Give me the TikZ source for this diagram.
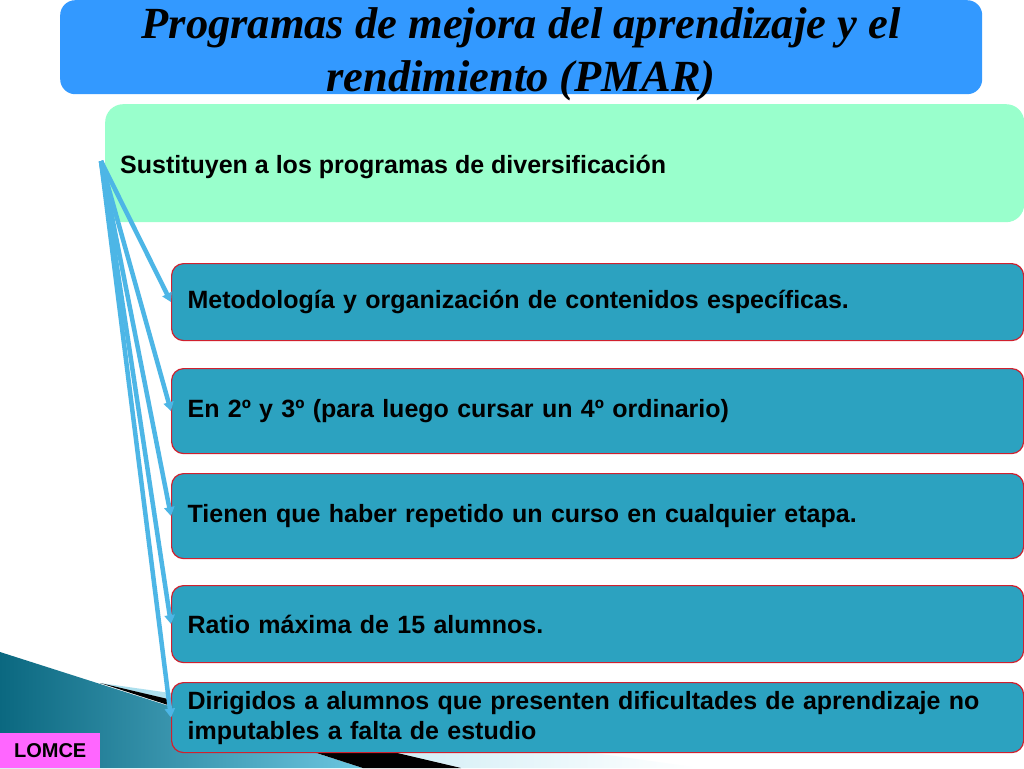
\documentclass[tikz,border=0pt]{standalone}
\usepackage{fontspec}
\setmainfont{Liberation Serif}
\newfontfamily\arialfont{Liberation Sans}
\usetikzlibrary{arrows.meta}
\definecolor{titleblue}{HTML}{3399FF}
\definecolor{mint}{HTML}{99FFCC}
\definecolor{tealbox}{HTML}{2CA2C0}
\definecolor{boxred}{HTML}{D0202E}
\definecolor{connblue}{HTML}{4DB6E6}
\definecolor{lompink}{HTML}{FF66FF}
\definecolor{darkteal}{HTML}{0B6880}
\definecolor{lightteal}{HTML}{6CC6E0}
\tikzset{
  itembox/.style={rectangle, rounded corners=12pt, fill=tealbox, draw=boxred, line width=1.2pt,
    minimum width=852pt, anchor=north west, inner xsep=16pt, inner ysep=0pt,
    text width=820pt, align=left, font=\arialfont\bfseries\fontsize{25}{30}\selectfont},
  conn/.style={draw=connblue, line width=4.5pt, -{Triangle[length=9pt,width=10pt]}},
  titletext/.style={anchor=base, inner sep=0pt, font=\bfseries\itshape\fontsize{44.5}{52}\selectfont},
}
\begin{document}
\begin{tikzpicture}[x=1pt,y=-1pt]
\useasboundingbox (0,0) rectangle (1024,768);
\fill[white] (0,0) rectangle (1024,768);
% bottom-left decoration
\shade[left color=darkteal, right color=lightteal] (0,652) -- (363,768) -- (0,768) -- cycle;
\shade[left color=lightteal!60!white, right color=white] (100,683) -- (700,768) -- (461,768) -- cycle;
\fill[black] (100,683) -- (461,768) -- (363,768) -- cycle;
% title
\node[rectangle, rounded corners=15pt, fill=titleblue, minimum width=922pt, minimum height=94pt, anchor=north west, inner sep=0pt] (titlebox) at (60,0) {};
\node[titletext] (title1) at (521,38) {Programas de mejora del aprendizaje y el};
\node[titletext] (title2) at (521,91) {rendimiento (PMAR)};
% main box
\node[rectangle, rounded corners=18pt, fill=mint, minimum width=919pt, minimum height=118pt, anchor=north west, inner sep=0pt] (sust) at (105,104) {};
\node[anchor=base west, inner sep=0pt, font=\arialfont\bfseries\fontsize{25}{30}\selectfont] (sustext) at (120,173)
  {Sustituyen a los programas de diversificación};
% items
\node[itembox, minimum height=77pt] (b1) at (171,263) {Metodología y organización de contenidos específicas.};
\node[itembox, minimum height=85pt] (b2) at (171,368) {En 2º y 3º (para luego cursar un 4º ordinario)};
\node[itembox, minimum height=85pt] (b3) at (171,473) {Tienen que haber repetido un curso en cualquier etapa.};
\node[itembox, minimum height=77pt] (b4) at (171,585) {Ratio máxima de 15 alumnos.};
\node[itembox, minimum height=70pt] (b5) at (171,682) {Dirigidos a alumnos que presenten dificultades de aprendizaje no\\imputables a falta de estudio};
% connectors
\coordinate (src) at (101,161);
\draw[conn] (src) -- (b1.west);
\draw[conn] (src) -- (b2.west);
\draw[conn] (src) -- (b3.west);
\draw[conn] (src) -- (b4.west);
\draw[conn] (src) -- (b5.west);
% LOMCE
\node[rectangle, fill=lompink, minimum width=100pt, minimum height=35pt, anchor=north west, inner sep=0pt,
  font=\arialfont\bfseries\fontsize{20}{22}\selectfont] (lomce) at (0,733) {LOMCE};
\end{tikzpicture}
\end{document}
